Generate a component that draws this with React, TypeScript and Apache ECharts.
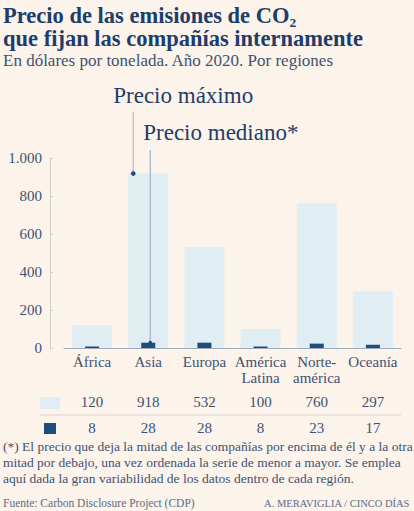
import React, { useEffect, useRef } from "react";
import * as echarts from "echarts";

const categories = ["África", "Asia", "Europa", "América\nLatina", "Norte-\namérica", "Oceanía"];
const maxPrice = [120, 918, 532, 100, 760, 297];
const medianPrice = [8, 28, 28, 8, 23, 17];
const yTicks = { min: 0, max: 1000, interval: 200 };

const FONT = "'Liberation Serif', serif";
const BG = "#fcf3ea";
const NAVY = "#1d3e6c";
const TXT = "#3f5273";
const LIGHT = "#e0eef3";
const DARK = "#1f4c7e";

const fmt = (v: number) => (v >= 1000 ? String(v).replace(/(\d)(\d{3})$/, "$1.$2") : String(v));

export default function App() {
  const ref = useRef<HTMLDivElement>(null);
  useEffect(() => {
    if (!ref.current) return;
    const chart = echarts.init(ref.current, null, { renderer: "svg" });
    const valueAxis = (data: string[], margin: number) => ({
      type: "category",
      data,
      position: "bottom",
      gridIndex: 0,
      axisLine: { show: false },
      axisTick: { show: false },
      axisLabel: { margin, fontFamily: FONT, fontSize: 15, color: TXT, lineHeight: 16, verticalAlign: "top" },
    });
    const option: any = {
      animation: false,
      backgroundColor: BG,
      grid: { left: 64, right: 13, top: 158, bottom: 163 },
      xAxis: [
        {
          type: "category",
          data: categories,
          axisLine: { lineStyle: { color: "#a3acbd", width: 1 } },
          axisTick: { show: false },
          axisLabel: { margin: 6, fontFamily: FONT, fontSize: 15, color: TXT, lineHeight: 16, verticalAlign: "top", interval: 0 },
        },
        { type: "category", data: categories, show: false, gridIndex: 0 },
        valueAxis(maxPrice.map(String), 46),
        valueAxis(medianPrice.map(String), 72),
      ],
      yAxis: {
        type: "value",
        min: yTicks.min,
        max: yTicks.max,
        interval: yTicks.interval,
        offset: 14,
        splitLine: { show: false },
        axisLine: { show: true, lineStyle: { color: "#cfcfcf" } },
        axisTick: { show: true, inside: true, length: 3, lineStyle: { color: "#cfcfcf" } },
        axisLabel: { margin: 8, fontFamily: FONT, fontSize: 15, color: TXT, formatter: (v: number) => fmt(v) },
      },
      series: [
        { type: "bar", data: maxPrice, barWidth: 40, xAxisIndex: 0, itemStyle: { color: LIGHT }, z: 1 },
        { type: "bar", data: medianPrice, barWidth: 14, xAxisIndex: 1, itemStyle: { color: DARK }, z: 3 },
      ],
    };
    chart.setOption(option);

    const [cx, yMax] = chart.convertToPixel({ xAxisIndex: 0, yAxisIndex: 0 }, [categories[1], maxPrice[1]]) as number[];
    const [, yMed] = chart.convertToPixel({ xAxisIndex: 0, yAxisIndex: 0 }, [categories[1], medianPrice[1]]) as number[];
    const x1 = cx - 15;
    const x2 = cx + 2;

    chart.setOption({
      graphic: [
        { type: "text", left: 3, top: 4, style: { text: "Precio de las emisiones de CO₂", font: `bold 22.5px ${FONT}`, fill: NAVY } },
        { type: "text", left: 3, top: 27, style: { text: "que fijan las compañías internamente", font: `bold 22.5px ${FONT}`, fill: NAVY } },
        { type: "text", left: 3, top: 52, style: { text: "En dólares por tonelada. Año 2020. Por regiones", font: `17px ${FONT}`, fill: TXT } },
        { type: "text", x: x1 - 20, y: 95, style: { text: "Precio máximo", font: `23px ${FONT}`, fill: NAVY, verticalAlign: "middle" } },
        { type: "text", x: x1 + 10, y: 132, style: { text: "Precio mediano*", font: `23px ${FONT}`, fill: NAVY, verticalAlign: "middle" } },
        { type: "line", shape: { x1, y1: 112, x2: x1, y2: yMax }, style: { stroke: "#b9b9b9", lineWidth: 1.2 }, z: 10 },
        { type: "circle", shape: { cx: x1, cy: yMax, r: 2.3 }, style: { fill: DARK }, z: 11 },
        { type: "line", shape: { x1: x2, y1: 150, x2, y2: yMed }, style: { stroke: "#9db3c7", lineWidth: 1.2 }, z: 10 },
        { type: "circle", shape: { cx: x2, cy: yMed, r: 1.8 }, style: { fill: DARK }, z: 11 },
        { type: "rect", shape: { x: 40, y: 397, width: 20, height: 12 }, style: { fill: LIGHT } },
        { type: "line", shape: { x1: 40, y1: 415, x2: 401, y2: 415 }, style: { stroke: "#dcd6d0", lineWidth: 1 } },
        { type: "rect", shape: { x: 44, y: 423, width: 12, height: 11 }, style: { fill: DARK } },
        { type: "text", left: 3, top: 438, style: { text: "(*) El precio que deja la mitad de las compañías por encima de él y a la otra\nmitad por debajo, una vez ordenada la serie de menor a mayor. Se emplea\naquí dada la gran variabilidad de los datos dentro de cada región.", font: `13.5px ${FONT}`, fill: TXT, lineHeight: 16 } },
        { type: "text", left: 3, top: 497, style: { text: "Fuente: Carbon Disclosure Project (CDP)", font: `11.5px ${FONT}`, fill: "#5d6c86" } },
        { type: "text", right: 4, top: 498, style: { text: "A. MERAVIGLIA / CINCO DÍAS", font: `10.5px ${FONT}`, fill: "#5d6c86" } },
      ],
    });
    return () => chart.dispose();
  }, []);
  return <div ref={ref} style={{ position: "fixed", left: 0, top: 0, width: 414, height: 511, background: BG }} />;
}
